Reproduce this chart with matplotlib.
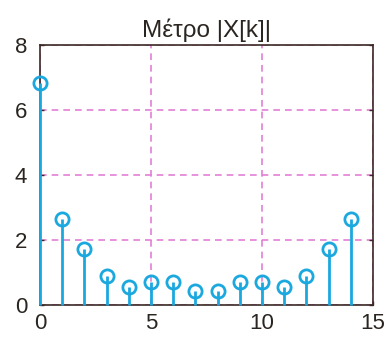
import numpy as np
import matplotlib
matplotlib.use("Agg")
import matplotlib.pyplot as plt

plt.rcParams['font.family'] = ['Liberation Sans', 'DejaVu Sans']

# magnitude of the DFT
k = np.arange(15)
mag = [6.84, 2.66, 1.72, 0.89, 0.56, 0.71, 0.71, 0.42,
       0.42, 0.71, 0.71, 0.56, 0.89, 1.72, 2.66]

xticks = [0, 5, 10, 15]
yticks = [0, 2, 4, 6, 8]

fig = plt.figure(figsize=(3.87, 3.39), dpi=100)
ax = fig.add_axes([0.103, 0.100, 0.861, 0.767])

blue = '#1ba8df'
markerline, stemlines, baseline = ax.stem(k, mag)
plt.setp(stemlines, color=blue, linewidth=2.0, zorder=3, clip_on=False)
plt.setp(markerline, color=blue, marker='o', markersize=9.5,
         markerfacecolor='none', markeredgewidth=2.0, zorder=3,
         clip_on=False)
baseline.set_visible(False)

ax.set_xlim(0, 15)
ax.set_ylim(0, 8)
ax.set_xticks(xticks)
ax.set_yticks(yticks)

ax.grid(True, color='#e27fd6', linestyle=(0, (4, 3)), linewidth=1.2)
ax.set_axisbelow(True)

for s in ax.spines.values():
    s.set_color('#3a2a25')
    s.set_linewidth(1.2)

ax.tick_params(direction='in', length=3, width=1, colors='#3a2a25',
               labelsize=16, labelcolor='#2a2520', top=False, right=True)
ax.tick_params(axis='x', pad=6)
ax.tick_params(axis='y', pad=9)

ax.set_title('Μέτρο |X[k]|', fontsize=17.5, color='#2a2520', pad=6)

fig.savefig('out.png', dpi=100)
